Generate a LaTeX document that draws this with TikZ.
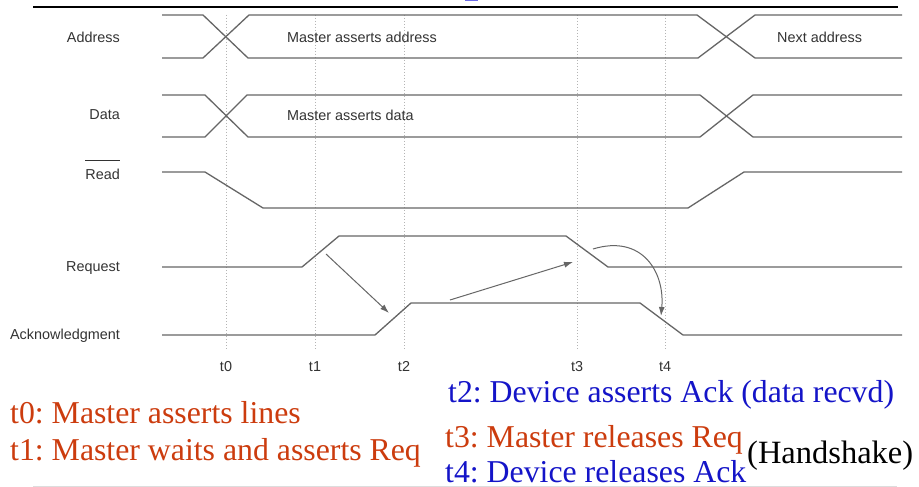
\documentclass[tikz,border=0pt]{standalone}
\usepackage{fontspec}
\setmainfont{Liberation Serif}
\setsansfont{Liberation Sans}
\usetikzlibrary{arrows.meta}
\frenchspacing
\definecolor{sig}{HTML}{666666}
\definecolor{lbl}{HTML}{333333}
\definecolor{redt}{HTML}{CC3C0E}
\definecolor{bluet}{HTML}{1414C8}
\definecolor{dotc}{HTML}{B4B4B4}
\definecolor{fragc}{HTML}{6A6AE6}
\definecolor{rulec}{HTML}{DDDDDD}
\begin{document}
\begin{tikzpicture}[x=1pt,y=-1pt,
  sigline/.style={draw=sig,line width=1.3pt,line join=round},
  siglabel/.style={font=\sffamily\fontsize{14.4}{16}\selectfont,text=lbl,inner sep=0pt},
  tickline/.style={draw=dotc,line width=0.8pt,dash pattern=on 1.2pt off 1.8pt},
  cause/.style={draw=sig,line width=1pt,-{Latex[length=9pt,width=6pt]}},
  redtext/.style={font=\fontsize{31.8}{36}\selectfont,text=redt,inner sep=0pt,anchor=base west},
  bluetext/.style={font=\fontsize{31.8}{36}\selectfont,text=bluet,inner sep=0pt,anchor=base west}]
\useasboundingbox (0,0) rectangle (919,487);
\fill[white] (0,0) rectangle (919,487);

% top rule and cut-off fragment
\fill[fragc] (465,0) rectangle (478,1.3);
\draw[black,line width=1.5pt] (33,7) -- (898,7);
% bottom rule
\draw[rulec,line width=1pt] (33,486) -- (897,486);

% timing marks
\foreach \n/\x in {t0/226,t1/315,t2/404,t3/577,t4/665}{
  \coordinate (\n top) at (\x,15);
  \coordinate (\n bot) at (\x,350);
  \draw[tickline] (\n top) -- (\n bot);
  \node[siglabel] (lab\n) at (\x,367) {\n};
}

% signal labels
\node[siglabel,anchor=east] (laddr) at (120,37) {Address};
\node[siglabel,anchor=east] (ldata) at (120,115) {Data};
\node[siglabel,anchor=east] (lread) at (120,174) {Read};
\draw[lbl,line width=1pt] ([yshift=8pt]lread.north west) -- ([yshift=8pt]lread.north east);
\node[siglabel,anchor=east] (lreq) at (120,268) {Request};
\node[siglabel,anchor=east] (lack) at (120,336) {Acknowledgment};

% Address bus
\draw[sigline] (162,15) -- (203,15) -- (248,58) -- (698,58) -- (755,15) -- (902,15);
\draw[sigline] (162,58) -- (203,58) -- (249,15) -- (697,15) -- (755,58) -- (902,58);
\node[siglabel,anchor=west] (maddr) at (287,37) {Master asserts address};
\node[siglabel,anchor=west] (naddr) at (777,37) {Next address};

% Data bus
\draw[sigline] (162,95) -- (205,95) -- (248,137) -- (700,137) -- (753,95) -- (902,95);
\draw[sigline] (162,137) -- (205,137) -- (247,95) -- (700,95) -- (753,137) -- (902,137);
\node[siglabel,anchor=west] (mdata) at (287,115) {Master asserts data};

% Read
\draw[sigline] (162,172) -- (205,172) -- (263,208) -- (688,208) -- (744,172) -- (902,172);

% Request
\draw[sigline] (162,267) -- (302,267) -- (339,236) -- (566,236) -- (608,267) -- (902,267);

% Acknowledgment
\draw[sigline] (162,335) -- (375,335) -- (411,303) -- (640,303) -- (683,335) -- (902,335);

% causality arrows
\coordinate (a1s) at (326,254);
\coordinate (a1e) at (389,313);
\coordinate (a2s) at (450,300);
\coordinate (a2e) at (573,262);
\coordinate (a3s) at (593,249);
\coordinate (a3e) at (661,316);
\draw[cause] (a1s) -- (a1e);
\draw[cause] (a2s) -- (a2e);
\draw[cause] (a3s) .. controls (642,234) and (665,272) .. (a3e);

% explanation text
\node[redtext] (e0) at (10,423) {t0: Master asserts lines};
\node[redtext] (e1) at (10,460) {t1: Master waits and asserts Req};
\node[bluetext] (e2) at (448,402) {t2: Device asserts Ack (data recvd)};
\node[redtext] (e3) at (445,447) {t3: Master releases Req};
\node[bluetext] (e4) at (445,482) {t4: Device releases Ack};
\node[font=\fontsize{32.5}{36}\selectfont,text=black,inner sep=0pt,anchor=base west] (hs) at (747,463) {(Handshake)};
\end{tikzpicture}
\end{document}
